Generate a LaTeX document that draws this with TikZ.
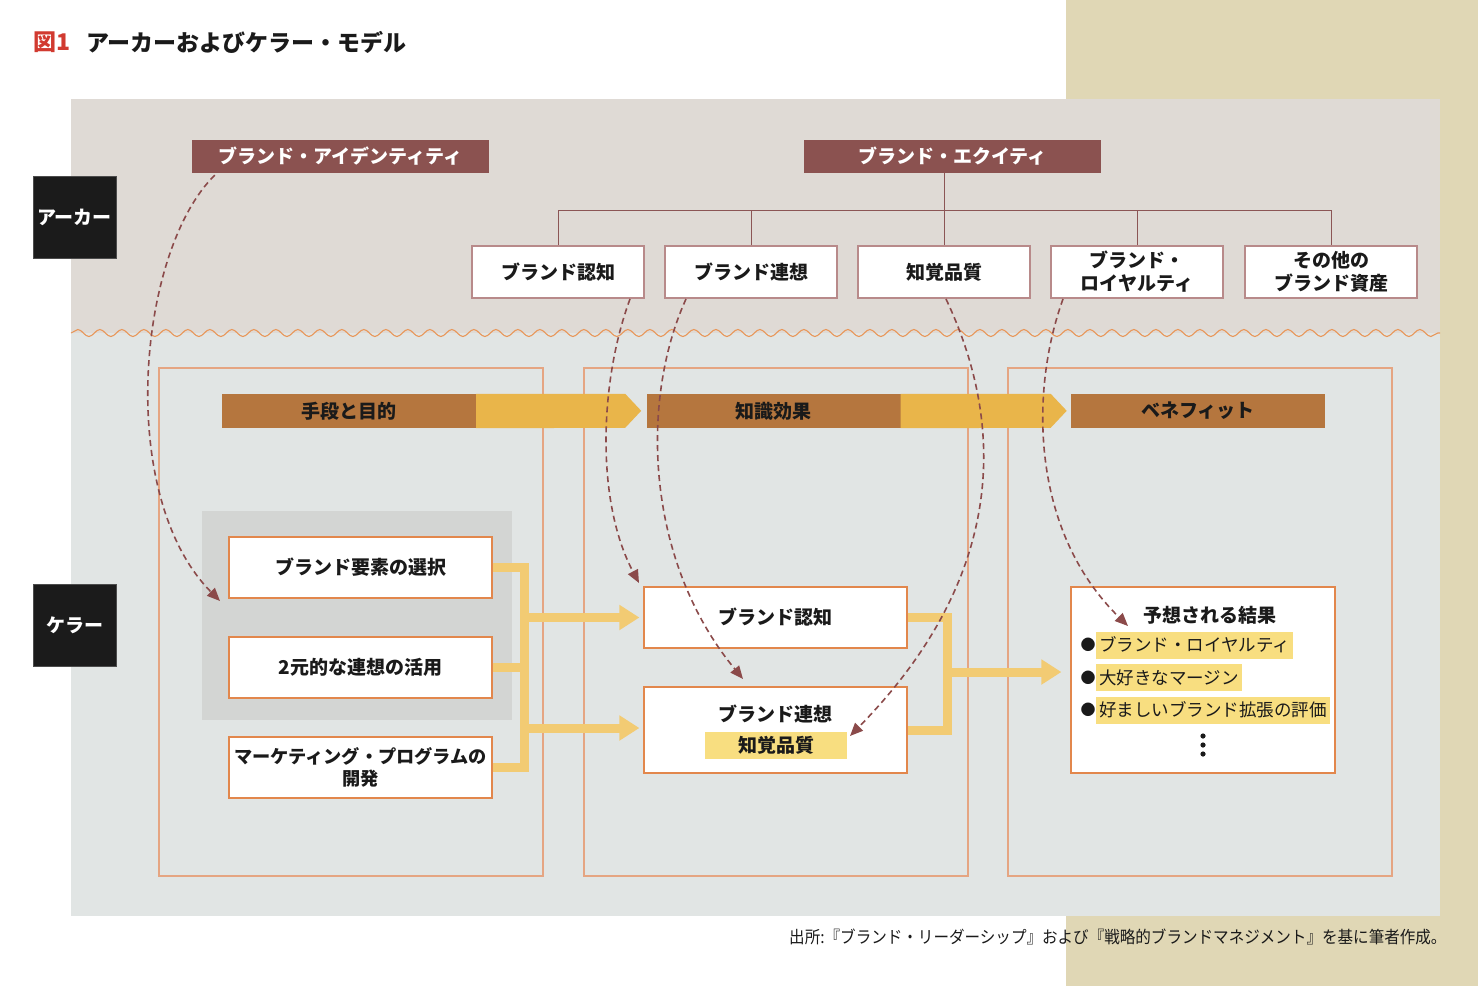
\documentclass[tikz,border=0pt]{standalone}
\usepackage{fontspec}
\usepackage{graphicx}
\setmainfont{Noto Sans CJK JP}
\usetikzlibrary{arrows.meta,calc,decorations.pathmorphing}
\definecolor{beige}{HTML}{E0D7B5}
\definecolor{topbg}{HTML}{DFDAD5}
\definecolor{botbg}{HTML}{E1E5E4}
\definecolor{innergray}{HTML}{D3D5D3}
\definecolor{maroon}{HTML}{8B5250}
\definecolor{dashc}{HTML}{8B4A4A}
\definecolor{treec}{HTML}{8B5555}
\definecolor{topborder}{HTML}{B88A8A}
\definecolor{framec}{HTML}{E5A582}
\definecolor{boxborder}{HTML}{E2874C}
\definecolor{brownc}{HTML}{B5763E}
\definecolor{ybarc}{HTML}{E9B54A}
\definecolor{yconnc}{HTML}{F2CB73}
\definecolor{hlc}{HTML}{F8DE80}
\definecolor{blackc}{HTML}{1B1B1B}
\definecolor{txt}{HTML}{1A1A1A}
\definecolor{titlered}{HTML}{D13A30}
\definecolor{wavec}{HTML}{E8975A}
\begin{document}
\begin{tikzpicture}[x=1pt,y=-1pt,
  boxfont/.style={font=\bfseries\fontsize{19}{23}\selectfont, text=txt},
  blackbox/.style={fill=blackc, draw=black!70, line width=0.8pt, text=white, font=\bfseries\fontsize{19}{23}\selectfont, minimum width=83pt, minimum height=82pt, inner sep=0pt},
  maroonbox/.style={fill=maroon, text=white, font=\bfseries\fontsize{19}{23}\selectfont, minimum width=297pt, minimum height=33pt, inner sep=0pt},
  topbox/.style={boxfont, fill=white, draw=topborder, line width=1.2pt, minimum width=172pt, minimum height=52pt, inner sep=0pt, align=center},
  framebox/.style={draw=framec, line width=1.3pt, minimum width=384pt, minimum height=508pt, inner sep=0pt},
  brownbar/.style={fill=brownc, boxfont, minimum width=254pt, minimum height=34pt, inner sep=0pt},
  ybar/.style={fill=ybarc},
  lbox/.style={boxfont, fill=white, draw=boxborder, line width=1.2pt, minimum width=263pt, minimum height=61pt, inner sep=0pt, align=center},
  hl/.style={fill=hlc, text=txt, font=\fontsize{17.5}{21}\selectfont, inner xsep=3pt, inner ysep=0pt, minimum height=27pt, anchor=west},
  yconn/.style={draw=yconnc, line width=9pt, line join=miter},
  yarrow/.style={draw=yconnc, line width=9pt, -{Triangle[length=20pt,width=24pt]}},
  dasharrow/.style={draw=dashc, line width=1.6pt, dash pattern=on 6pt off 4pt, -{Triangle[length=13pt,width=11pt]}},
  treeline/.style={draw=treec, line width=1pt}]
\useasboundingbox (0,0) rectangle (1478,986);
% backgrounds
\fill[beige] (1066,0) rectangle (1478,986);
\fill[topbg] (71,99) rectangle (1440,333);
\fill[botbg] (71,333) rectangle (1440,916);
\draw[wavec, line width=1.1pt, decorate, decoration={snake, segment length=22pt, amplitude=3.5pt}] (71,333) -- (1440,333);
% title
\node[anchor=west, font=\bfseries\fontsize{23}{28}\selectfont, text=titlered, inner sep=0pt] (tnum) at (33,42) {図1};
\node[anchor=west, font=\bfseries\fontsize{23}{28}\selectfont, text=txt, inner sep=0pt] (ttl) at (86,42) {アーカーおよびケラー・モデル};
% side labels
\node[blackbox] (ak) at (74.5,217) {アーカー};
\node[blackbox] (kl) at (74.5,625) {ケラー};
% top
\node[maroonbox] (bi) at (340.5,156.5) {ブランド・アイデンティティ};
\node[maroonbox] (be) at (952.5,156.5) {ブランド・エクイティ};
\node[topbox] (e1) at (558,272) {ブランド認知};
\node[topbox] (e2) at (751,272) {ブランド連想};
\node[topbox] (e3) at (944,272) {知覚品質};
\node[topbox] (e4) at (1137,272) {ブランド・\\ロイヤルティ};
\node[topbox] (e5) at (1331,272) {その他の\\ブランド資産};
\coordinate (ty) at (0,210);
\draw[treeline] (be.south -| e3.north) -- (e3.north);
\draw[treeline] (e1.north) -- (e1.north |- ty) -- (e5.north |- ty) -- (e5.north);
\foreach \n in {e2,e4} \draw[treeline] (\n.north) -- (\n.north |- ty);
% frames
\node[framebox] (f1) at (351,622) {};
\node[framebox] (f2) at (776,622) {};
\node[framebox] (f3) at (1200,622) {};
% arrow bars
\node[brownbar] (b1) at (349,411) {手段と目的};
\fill[ybar] (b1.north east) -- ++(149,0) -- ++(16,17) -- ++(-16,17) -- (b1.south east) -- cycle;
\node[brownbar] (b2) at (773.5,411) {知識効果};
\fill[ybar] (b2.north east) -- ++(150,0) -- ++(16,17) -- ++(-16,17) -- (b2.south east) -- cycle;
\node[brownbar] (b3) at (1198,411) {ベネフィット};
% left column
\fill[innergray] (202,511) rectangle (512,720);
\node[lbox] (l1) at (360.5,567.5) {ブランド要素の選択};
\node[lbox] (l2) at (360.5,667.5) {2元的な連想の活用};
\node[lbox, font=\bfseries\fontsize{18.2}{22}\selectfont] (l3) at (360.5,767.5) {マーケティング・プログラムの\\開発};
% middle column
\node[lbox] (m1) at (775.5,617.5) {ブランド認知};
\node[lbox, minimum height=86pt] (m2) at (775.5,730) {};
\node[boxfont, inner sep=0pt] (m2t) at (775.5,714) {ブランド連想};
\node[hl, anchor=center, minimum width=142pt, font=\bfseries\fontsize{19}{23}\selectfont] (m2h) at (776,745.5) {知覚品質};
% right column
\node[fill=white, draw=boxborder, line width=1.2pt, minimum width=264pt, minimum height=186pt, inner sep=0pt] (r) at (1203,680) {};
\node[boxfont, inner sep=0pt] (rt) at (1210,615) {予想される結果};
\node[text=txt, font=\fontsize{15}{16}\selectfont, inner sep=0pt] (bu1) at (1088,645) {●};
\node[text=txt, font=\fontsize{15}{16}\selectfont, inner sep=0pt] (bu2) at (1088,677.5) {●};
\node[text=txt, font=\fontsize{15}{16}\selectfont, inner sep=0pt] (bu3) at (1088,710) {●};
\node[hl] (h1) at (1096,645) {ブランド・ロイヤルティ};
\node[hl] (h2) at (1096,677.5) {大好きなマージン};
\node[hl] (h3) at (1096,710) {好ましいブランド拡張の評価};
\foreach \yy in {736,745,754} \fill[txt] (1203,\yy) circle (2.6pt);
% yellow connectors
\coordinate (jx) at (524,0);
\draw[yconn] (l1.east) -- (l1.east -| jx) -- (l3.east -| jx) -- (l3.east);
\draw[yconn] (l2.east) -- (l2.east -| jx);
\draw[yarrow, shorten >=4pt] (m1.west -| jx) -- (m1.west);
\coordinate (ja2) at (524,728);
\draw[yarrow, shorten >=4pt] (ja2) -- (ja2 -| m2.west);
\coordinate (kx) at (947,0);
\draw[yconn] (m1.east) -- (m1.east -| kx) -- (m2.east -| kx) -- (m2.east);
\coordinate (ka) at (947,672);
\draw[yarrow, shorten >=9pt] (ka) -- (ka -| r.west);
% dashed curves
\coordinate (c1s) at ($(bi.south west)+(23,2)$);
\coordinate (c1e) at (220,601);
\draw[dasharrow] (c1s) .. controls (138,250) and (115,495) .. (c1e);
\coordinate (c2s) at (630,299);
\coordinate (c2e) at (639,583);
\draw[dasharrow] (c2s) .. controls (600,380) and (595,500) .. (c2e);
\coordinate (c3s) at (686,299);
\coordinate (c3e) at (743,679);
\draw[dasharrow] (c3s) .. controls (640,400) and (645,560) .. (c3e);
\coordinate (c4s) at (946,299);
\coordinate (c4e) at (850,736);
\draw[dasharrow] (c4s) .. controls (1008,430) and (1003,580) .. (c4e);
\coordinate (c5s) at (1063,299);
\coordinate (c5e) at (1128,626);
\draw[dasharrow] (c5s) .. controls (1030,390) and (1030,530) .. (c5e);
% caption
\node[anchor=west, text=txt, font=\fontsize{17}{20}\selectfont, inner sep=0pt] (cap) at (789,937) {\scalebox{0.915}[1]{出所:『ブランド・リーダーシップ』および『戦略的ブランドマネジメント』を基に筆者作成。}};
\end{tikzpicture}
\end{document}
